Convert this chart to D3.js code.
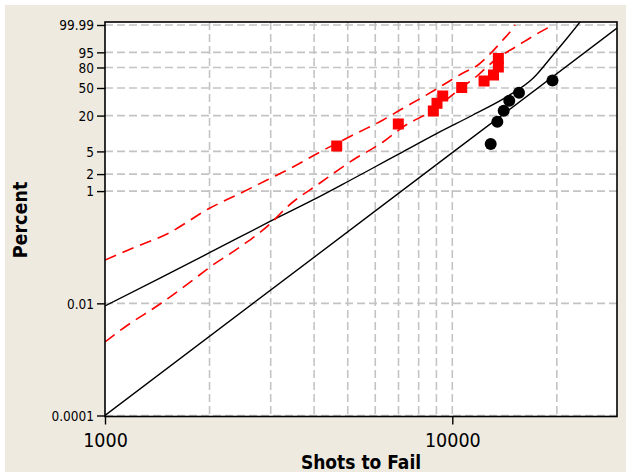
<!DOCTYPE html>
<html><head><meta charset="utf-8">
<script src="https://cdn.jsdelivr.net/npm/d3@7/dist/d3.min.js"></script>
<style>body{margin:0;background:#fff}svg{display:block}</style>
</head><body>
<svg id="c" width="626" height="474"></svg>
<script>
// ---- data ----
const yTickValues = [0.0001, 0.01, 1, 2, 5, 20, 50, 80, 95, 99.99];
const yTickLabels = ["0.0001", "0.01", "1", "2", "5", "20", "50", "80", "95", "99.99"];
const xTickValues = [1000, 10000];
const xTickLabels = ["1000", "10000"];
const xGridValues = [2000, 3000, 4000, 5000, 6000, 7000, 8000, 9000, 10000, 20000];

const redShots = [4647, 6991, 8818, 9035, 9385, 10644, 12343, 13142, 13570, 13570];
const redPct   = [6.20, 14.62, 23.62, 30.90, 39.28, 50.70, 60.30, 69.33, 80.63, 90.24];

const blackShots = [12900, 13480, 14060, 14590, 15560, 19430];
const blackPct   = [6.71, 15.94, 23.87, 33.61, 43.39, 61.05];

const blackFitShots = [1000, 10000, 29800];
const blackFitPct   = [0.0001, 4.75, 99.97];

const blackUpperShots = [1000, 1440, 2006, 2986, 3972, 4975, 5910, 7070, 9036, 11470, 14370, 17080, 19500, 21390, 23320];
const blackUpperPct   = [0.0090, 0.0283, 0.0807, 0.288, 0.695, 1.449, 2.561, 4.633, 10.22, 20.44, 38.42, 64.37, 93.19, 99.52, 99.997];

const redUpperShots = [1000, 1204, 1508, 2006, 2497, 2927, 3477, 4159, 5317, 6318, 7070, 8235, 9402, 10735, 11858, 12840, 13900, 14960, 15160];
const redUpperPct   = [0.0593, 0.0971, 0.1724, 0.5005, 0.963, 1.572, 2.667, 4.881, 10.34, 16.99, 24.48, 38.05, 54.33, 72.28, 83.17, 93.92, 99.16, 99.971, 99.99];

const redLowerShots = [1000, 1142, 1440, 1792, 2006, 2447, 2986, 3342, 4159, 5176, 6318, 7211, 8799, 10248, 11780, 13273, 15360, 17300, 19500];
const redLowerPct   = [0.00205, 0.00379, 0.00974, 0.0261, 0.0445, 0.1011, 0.2599, 0.5214, 1.391, 3.539, 7.268, 13.04, 24.48, 44.46, 67.84, 88.79, 97.95, 99.778, 99.99];

// ---- layout ----
const L = 105, R = 617, T = 22, B = 416.5;
const FONT = "'DejaVu Sans Condensed', 'DejaVu Sans', sans-serif";
const weib = p => Math.log(-Math.log(1 - p / 100));
const x = d3.scaleLog().domain([1000, 29800]).range([L, R]);
const y = d3.scaleLinear().domain([weib(0.0001), weib(99.99)]).range([415.5, 25]);

const svg = d3.select("#c");
svg.append("rect").attr("x", 5).attr("y", 5).attr("width", 621).attr("height", 467).attr("fill", "#EEEAE0");
svg.append("rect").attr("x", L).attr("y", T).attr("width", R - L).attr("height", B - T).attr("fill", "#fff");

svg.append("defs").append("clipPath").attr("id", "clip")
  .append("rect").attr("x", L).attr("y", T).attr("width", R - L).attr("height", B - T);

// grid
const grid = svg.append("g").attr("stroke", "#C4C4C4").attr("stroke-width", 1.6).attr("stroke-dasharray", "8,4");
grid.selectAll("line.h").data(yTickValues).join("line").attr("class", "h")
  .attr("x1", L).attr("x2", R).attr("y1", d => y(weib(d))).attr("y2", d => y(weib(d)));
grid.selectAll("line.v").data(xGridValues).join("line").attr("class", "v")
  .attr("y1", T).attr("y2", B).attr("x1", d => x(d)).attr("x2", d => x(d));

// lines
const plot = svg.append("g").attr("clip-path", "url(#clip)");
const line = d3.line().x(d => x(d[0])).y(d => y(weib(d[1])));
const curve = d3.line().x(d => x(d[0])).y(d => y(weib(d[1]))).curve(d3.curveMonotoneX);
const zip = (a, b) => a.map((v, i) => [v, b[i]]);

plot.append("path").datum(zip(blackFitShots, blackFitPct)).attr("d", line)
  .attr("fill", "none").attr("stroke", "#000").attr("stroke-width", 1.4);
plot.append("path").datum(zip(blackUpperShots, blackUpperPct)).attr("d", curve)
  .attr("fill", "none").attr("stroke", "#000").attr("stroke-width", 1.4);
plot.append("path").datum(zip(redUpperShots, redUpperPct)).attr("d", curve)
  .attr("fill", "none").attr("stroke", "#FF0000").attr("stroke-width", 1.6).attr("stroke-dasharray", "12,7");
plot.append("path").datum(zip(redLowerShots, redLowerPct)).attr("d", curve)
  .attr("fill", "none").attr("stroke", "#FF0000").attr("stroke-width", 1.6).attr("stroke-dasharray", "12,7");

// points
plot.selectAll("rect.red").data(zip(redShots, redPct)).join("rect").attr("class", "red")
  .attr("x", d => x(d[0]) - 5.5).attr("y", d => y(weib(d[1])) - 5.5)
  .attr("width", 11).attr("height", 11).attr("fill", "#FF0000");
plot.selectAll("circle.blk").data(zip(blackShots, blackPct)).join("circle").attr("class", "blk")
  .attr("cx", d => x(d[0])).attr("cy", d => y(weib(d[1]))).attr("r", 6).attr("fill", "#000");

// frame
svg.append("rect").attr("x", L).attr("y", T).attr("width", R - L).attr("height", B - T)
  .attr("fill", "none").attr("stroke", "#000").attr("stroke-width", 1.6);

// y axis
const yAxis = svg.append("g").attr("transform", `translate(${L},0)`)
  .call(d3.axisLeft(y).tickValues(yTickValues.map(weib))
    .tickFormat((d, i) => yTickLabels[i]).tickSize(8).tickPadding(3).tickSizeOuter(0));
yAxis.select(".domain").remove();
yAxis.selectAll(".tick line").attr("stroke", "#000").attr("stroke-width", 1.4);
yAxis.selectAll(".tick text").attr("font-family", FONT).attr("font-size", 13.5).attr("fill", "#000")
  .attr("dy", "0.36em");

// x axis
const xAxis = svg.append("g").attr("transform", `translate(0,${B})`)
  .call(d3.axisBottom(x).tickValues(xTickValues)
    .tickFormat((d, i) => xTickLabels[i]).tickSize(8).tickSizeOuter(0));
xAxis.select(".domain").remove();
xAxis.selectAll(".tick line").attr("stroke", "#000").attr("stroke-width", 1.4);
xAxis.selectAll(".tick text").attr("font-family", FONT).attr("font-size", 19.5).attr("fill", "#000")
  .attr("y", 30.5).attr("dy", 0);

// titles
svg.append("text").attr("x", 361).attr("y", 469).attr("text-anchor", "middle")
  .attr("font-family", FONT).attr("font-weight", "bold").attr("font-size", 19).text("Shots to Fail");
svg.append("text").attr("transform", "translate(27,220) rotate(-90)").attr("text-anchor", "middle")
  .attr("font-family", FONT).attr("font-weight", "bold").attr("font-size", 19.5).text("Percent");
</script>
</body></html>
